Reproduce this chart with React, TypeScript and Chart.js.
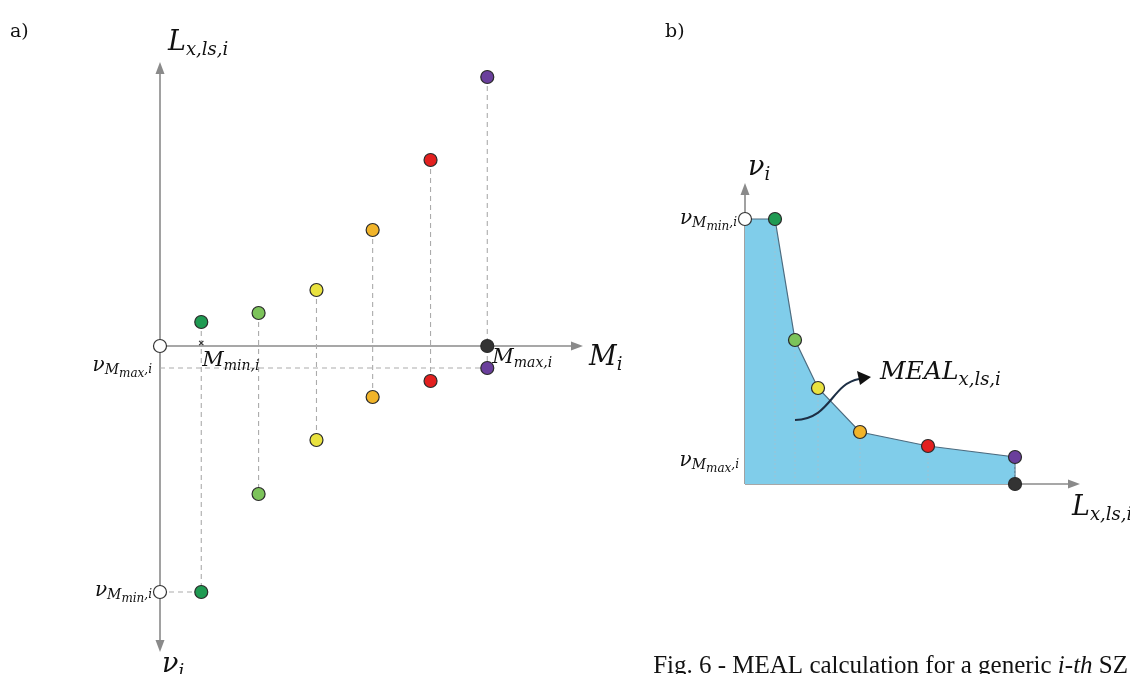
import React, { useEffect, useRef } from "react";
import { Chart, registerables } from "chart.js";

Chart.register(...registerables);

// ---------- Panel a) : L (up) and ν (down) versus M ----------
const mValues = [0.72, 1.72, 2.73, 3.71, 4.72, 5.71];
const lossValues = [2.4, 3.3, 5.6, 11.6, 18.6, 26.9];
const nuValues = [24.6, 14.8, 9.4, 5.1, 3.5, 2.2];

// ---------- Panel b) : ν versus L (MEAL curve) ----------
const curveLoss = [3.0, 5.0, 7.3, 11.5, 18.3, 27.0];
const curveNu = [26.5, 14.4, 9.6, 5.2, 3.8, 2.7];

const pointColors = ["#1f9a52", "#7cc35a", "#e9e23f", "#f1b42a", "#e3201f", "#6a3f9c"];

type Part = [string, number, number];

function drawMath(ctx: CanvasRenderingContext2D, x: number, y: number, parts: Part[], align: "left" | "right" = "left") {
  const font = (s: number) => `italic ${s}px "DejaVu Serif"`;
  let w = 0;
  parts.forEach((p) => {
    ctx.font = font(p[1]);
    w += ctx.measureText(p[0]).width;
  });
  let cx = align === "right" ? x - w : x;
  ctx.save();
  ctx.fillStyle = "#111";
  ctx.textAlign = "left";
  ctx.textBaseline = "alphabetic";
  parts.forEach((p) => {
    ctx.font = font(p[1]);
    ctx.fillText(p[0], cx, y + p[2]);
    cx += ctx.measureText(p[0]).width;
  });
  ctx.restore();
}

function arrowLine(ctx: CanvasRenderingContext2D, x1: number, y1: number, x2: number, y2: number, color: string) {
  const ang = Math.atan2(y2 - y1, x2 - x1);
  const len = 12;
  const half = 4.5;
  ctx.save();
  ctx.strokeStyle = color;
  ctx.fillStyle = color;
  ctx.lineWidth = 1.6;
  ctx.beginPath();
  ctx.moveTo(x1, y1);
  ctx.lineTo(x2 - Math.cos(ang) * len * 0.8, y2 - Math.sin(ang) * len * 0.8);
  ctx.stroke();
  ctx.beginPath();
  ctx.moveTo(x2, y2);
  ctx.lineTo(x2 - Math.cos(ang) * len - Math.sin(ang) * half, y2 - Math.sin(ang) * len + Math.cos(ang) * half);
  ctx.lineTo(x2 - Math.cos(ang) * len + Math.sin(ang) * half, y2 - Math.sin(ang) * len - Math.cos(ang) * half);
  ctx.closePath();
  ctx.fill();
  ctx.restore();
}

const AXIS_GREY = "#8a8a8a";

const pointStyleBase = {
  showLine: false,
  pointRadius: 6.5,
  pointBorderWidth: 1.2,
  pointBorderColor: "#2a2a2a",
  clip: false as const,
};

function PanelA() {
  const ref = useRef<HTMLCanvasElement>(null);
  useEffect(() => {
    if (!ref.current) return;
    const dashed = { showLine: true, borderDash: [5, 4], borderColor: "#ababab", borderWidth: 1.1, pointRadius: 0, order: 5, clip: false as const };
    const datasets: any[] = [];
    mValues.forEach((m, i) => {
      datasets.push({ ...dashed, data: [{ x: m, y: lossValues[i] }, { x: m, y: -nuValues[i] }] });
    });
    datasets.push({ ...dashed, data: [{ x: 0, y: -nuValues[5] }, { x: mValues[5], y: -nuValues[5] }] });
    datasets.push({ ...dashed, data: [{ x: 0, y: -nuValues[0] }, { x: mValues[0], y: -nuValues[0] }] });
    datasets.push({ ...pointStyleBase, order: 0, data: mValues.map((m, i) => ({ x: m, y: lossValues[i] })), pointBackgroundColor: pointColors });
    datasets.push({ ...pointStyleBase, order: 0, data: mValues.map((m, i) => ({ x: m, y: -nuValues[i] })), pointBackgroundColor: pointColors });
    datasets.push({ ...pointStyleBase, order: 0, data: [{ x: mValues[5], y: 0 }], pointBackgroundColor: "#333333" });
    datasets.push({ ...pointStyleBase, order: 0, data: [{ x: 0, y: 0 }, { x: 0, y: -nuValues[0] }], pointBackgroundColor: "#ffffff", pointBorderColor: "#333" });
    datasets.push({ showLine: false, order: 0, clip: false, data: [{ x: mValues[0], y: 0.3 }], pointStyle: "crossRot", pointRadius: 3, pointBorderColor: "#333", pointBorderWidth: 1.2 });

    const axesPlugin = {
      id: "axesA",
      beforeDatasetsDraw(chart: any) {
        const ctx = chart.ctx as CanvasRenderingContext2D;
        const xs = chart.scales.x, ys = chart.scales.y;
        const x0 = xs.getPixelForValue(0), y0 = ys.getPixelForValue(0);
        arrowLine(ctx, x0, y0, xs.getPixelForValue(xs.max), y0, AXIS_GREY);
        arrowLine(ctx, x0, y0, x0, ys.getPixelForValue(ys.max), AXIS_GREY);
        arrowLine(ctx, x0, y0, x0, ys.getPixelForValue(ys.min), AXIS_GREY);
      },
      afterDraw(chart: any) {
        const ctx = chart.ctx as CanvasRenderingContext2D;
        const xs = chart.scales.x, ys = chart.scales.y;
        const x0 = xs.getPixelForValue(0), y0 = ys.getPixelForValue(0);
        ctx.save();
        ctx.fillStyle = "#111";
        ctx.font = '19px "DejaVu Serif"';
        ctx.fillText("a)", 10, 37);
        ctx.restore();
        drawMath(ctx, x0 + 8, ys.getPixelForValue(ys.max) - 12, [["L", 27, 0], ["x,ls,i", 18, 5]]);
        drawMath(ctx, xs.getPixelForValue(xs.max) + 6, y0 + 19, [["M", 27, 0], ["i", 18, 5]]);
        drawMath(ctx, x0 + 2, ys.getPixelForValue(ys.min) + 20, [["ν", 27, 0], ["i", 18, 5]]);
        drawMath(ctx, x0 - 8, ys.getPixelForValue(-nuValues[5]) + 3, [["ν", 20, 0], ["M", 14, 3], ["max", 12, 6], [",i", 12, 2]], "right");
        drawMath(ctx, x0 - 8, ys.getPixelForValue(-nuValues[0]) + 4, [["ν", 20, 0], ["M", 14, 3], ["min", 12, 6], [",i", 12, 2]], "right");
        drawMath(ctx, xs.getPixelForValue(mValues[0]) + 1, y0 + 20, [["M", 21, 0], ["min,i", 14, 4]]);
        drawMath(ctx, xs.getPixelForValue(mValues[5]) + 5, y0 + 17, [["M", 21, 0], ["max,i", 14, 4]]);
      },
    };

    const chart = new Chart(ref.current, {
      type: "line",
      data: { datasets },
      options: {
        responsive: false,
        animation: false,
        devicePixelRatio: 1,
        layout: { padding: { left: 160, right: 57, top: 62, bottom: 22 } },
        scales: {
          x: { type: "linear", display: false, min: 0, max: 7.38 },
          y: { type: "linear", display: false, min: -30.6, max: 28.4 },
        },
        elements: { line: { tension: 0 } },
        plugins: { legend: { display: false }, tooltip: { enabled: false } },
      },
      plugins: [axesPlugin],
    } as any);
    return () => chart.destroy();
  }, []);
  return <canvas ref={ref} width={640} height={674} style={{ position: "absolute", left: 0, top: 0, display: "block" }} />;
}

function PanelB() {
  const ref = useRef<HTMLCanvasElement>(null);
  useEffect(() => {
    if (!ref.current) return;
    const OFF = 640;
    const datasets: any[] = [];
    // filled area under the MEAL curve
    datasets.push({
      order: 10,
      clip: false,
      data: [{ x: 0, y: curveNu[0] }, ...curveLoss.map((l, i) => ({ x: l, y: curveNu[i] })), { x: curveLoss[5], y: 0 }],
      fill: "origin",
      backgroundColor: "#80cdea",
      borderColor: "#4d6c80",
      borderWidth: 1.2,
      pointRadius: 0,
      tension: 0,
    });
    curveLoss.forEach((l, i) => {
      datasets.push({ order: 5, clip: false, showLine: true, data: [{ x: l, y: curveNu[i] }, { x: l, y: 0 }], borderColor: "rgba(160,195,210,0.9)", borderDash: [2, 2], borderWidth: 1, pointRadius: 0 });
    });
    datasets.push({ ...pointStyleBase, order: 0, data: curveLoss.map((l, i) => ({ x: l, y: curveNu[i] })), pointBackgroundColor: pointColors });
    datasets.push({ ...pointStyleBase, order: 0, data: [{ x: curveLoss[5], y: 0 }], pointBackgroundColor: "#333333" });
    datasets.push({ ...pointStyleBase, order: 0, data: [{ x: 0, y: curveNu[0] }], pointBackgroundColor: "#ffffff", pointBorderColor: "#333" });

    const axesPlugin = {
      id: "axesB",
      beforeDatasetsDraw(chart: any) {
        const ctx = chart.ctx as CanvasRenderingContext2D;
        const xs = chart.scales.x, ys = chart.scales.y;
        const x0 = xs.getPixelForValue(0), y0 = ys.getPixelForValue(0);
        arrowLine(ctx, x0, y0, xs.getPixelForValue(xs.max), y0, AXIS_GREY);
        arrowLine(ctx, x0, y0, x0, ys.getPixelForValue(ys.max), AXIS_GREY);
      },
      afterDraw(chart: any) {
        const ctx = chart.ctx as CanvasRenderingContext2D;
        const xs = chart.scales.x, ys = chart.scales.y;
        const x0 = xs.getPixelForValue(0), y0 = ys.getPixelForValue(0);
        // curved annotation arrow
        const sx = xs.getPixelForValue(5.0), sy = ys.getPixelForValue(6.4);
        const ex = xs.getPixelForValue(12.2), ey = ys.getPixelForValue(10.6);
        ctx.save();
        ctx.strokeStyle = "#1d2f45";
        ctx.lineWidth = 2;
        ctx.beginPath();
        ctx.moveTo(sx, sy);
        ctx.bezierCurveTo(sx + 36, sy - 1, sx + 36, ey + 6, ex - 8, ey + 1);
        ctx.stroke();
        ctx.fillStyle = "#111";
        ctx.beginPath();
        ctx.moveTo(ex + 4, ey - 1);
        ctx.lineTo(ex - 10, ey - 7);
        ctx.lineTo(ex - 7, ey + 7);
        ctx.closePath();
        ctx.fill();
        ctx.restore();

        ctx.save();
        ctx.fillStyle = "#111";
        ctx.font = '19px "DejaVu Serif"';
        ctx.fillText("b)", 665 - OFF, 37);
        ctx.restore();
        drawMath(ctx, x0 + 3, ys.getPixelForValue(ys.max) - 8, [["ν", 27, 0], ["i", 18, 5]]);
        drawMath(ctx, x0 - 8, ys.getPixelForValue(curveNu[0]) + 5, [["ν", 20, 0], ["M", 14, 3], ["min", 12, 6], [",i", 12, 2]], "right");
        drawMath(ctx, x0 - 6, y0 - 18, [["ν", 20, 0], ["M", 14, 3], ["max", 12, 6], [",i", 12, 2]], "right");
        drawMath(ctx, 880 - OFF, 379, [["MEAL", 25, 0], ["x,ls,i", 18, 6]]);
        drawMath(ctx, xs.getPixelForValue(xs.max) - 8, y0 + 31, [["L", 27, 0], ["x,ls,i", 18, 5]]);

        // caption
        ctx.save();
        ctx.fillStyle = "#111";
        ctx.textBaseline = "alphabetic";
        const size = 25;
        const seg: [string, boolean][] = [["Fig. 6 - MEAL calculation for a generic ", false], ["i-th", true], [" SZ", false]];
        let w = 0;
        seg.forEach(([t, it]) => { ctx.font = `${it ? "italic " : ""}${size}px "Liberation Serif"`; w += ctx.measureText(t).width; });
        let cx = 1128 - OFF - w;
        seg.forEach(([t, it]) => { ctx.font = `${it ? "italic " : ""}${size}px "Liberation Serif"`; ctx.fillText(t, cx, 673); cx += ctx.measureText(t).width; });
        ctx.restore();
      },
    };

    const chart = new Chart(ref.current, {
      type: "line",
      data: { datasets },
      options: {
        responsive: false,
        animation: false,
        devicePixelRatio: 1,
        layout: { padding: { left: 105, right: 50, top: 183, bottom: 190 } },
        scales: {
          x: { type: "linear", display: false, min: 0, max: 33.5 },
          y: { type: "linear", display: false, min: 0, max: 30.1 },
        },
        plugins: { legend: { display: false }, tooltip: { enabled: false } },
      },
      plugins: [axesPlugin],
    } as any);
    return () => chart.destroy();
  }, []);
  return <canvas ref={ref} width={490} height={674} style={{ position: "absolute", left: 640, top: 0, display: "block" }} />;
}

export default function App() {
  return (
    <div style={{ position: "fixed", left: 0, top: 0, width: 1130, height: 674, background: "#ffffff", overflow: "hidden" }}>
      <PanelA />
      <PanelB />
    </div>
  );
}
